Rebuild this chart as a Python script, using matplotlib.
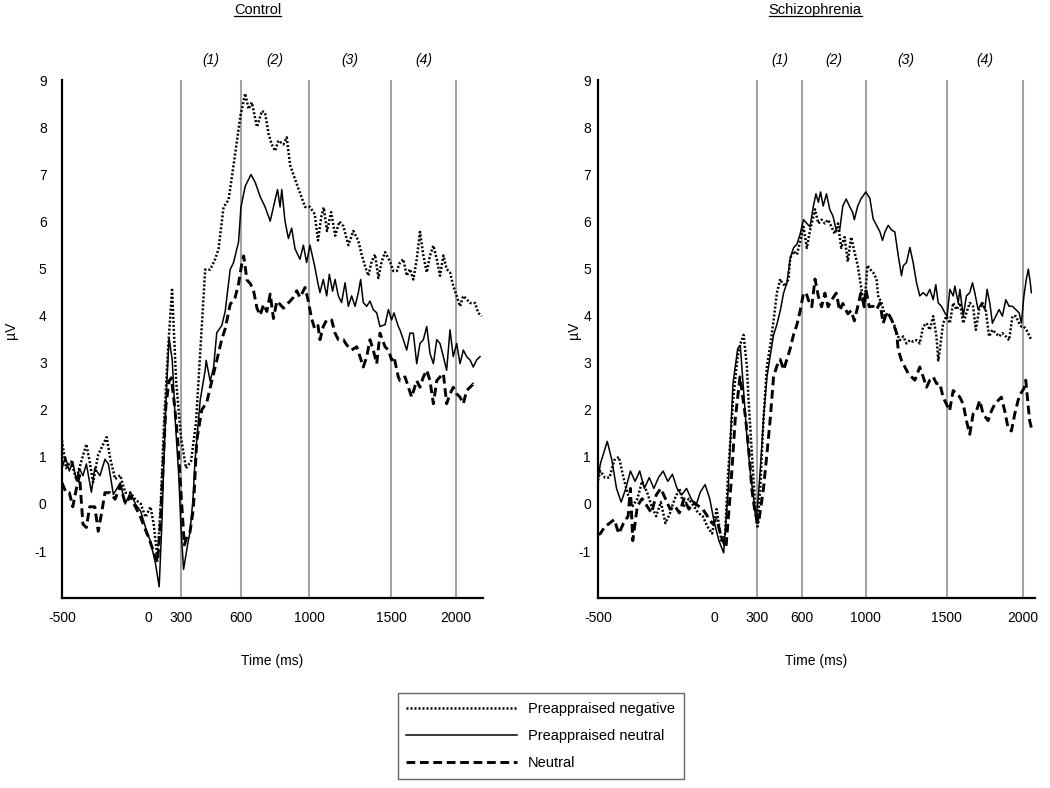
import numpy as np
import matplotlib
matplotlib.use('Agg')
import matplotlib.pyplot as plt
from matplotlib.lines import Line2D

plt.rcParams['font.family'] = ['Liberation Sans', 'DejaVu Sans']
plt.rcParams['axes.unicode_minus'] = False

# x ticks and the analysis window borders (ms)
tick_ms = [-500, 0, 300, 600, 1000, 1500, 2000]
window_ms = [300, 600, 1000, 1500, 2000]
window_names = ['(1)', '(2)', '(3)', '(4)']
legend_labels = ['Preappraised negative', 'Preappraised neutral', 'Neutral']

# Control group, preappraised negative (dotted)
ctrl_neg_t = [-500, -476, -447, -417, -388, -358, -339, -319, -289, -260, -240, -220, -191, -161, -132,
              -102, -73, -43, -14, 23, 52, 87, 116, 146, 184, 219, 256, 300, 325, 350, 375, 396, 421,
              446, 471, 488, 513, 538, 563, 597, 625, 645, 664, 694, 723, 742, 762, 781, 801, 820, 850,
              869, 889, 918, 947, 977, 1006, 1035, 1055, 1075, 1090, 1110, 1135, 1160, 1185, 1210, 1240,
              1270, 1300, 1321, 1342, 1362, 1382, 1403, 1423, 1443, 1464, 1494, 1518, 1544, 1569, 1595,
              1621, 1646, 1672, 1698, 1723, 1749, 1775, 1800, 1826, 1852, 1877, 1903, 1928, 1954, 1979,
              2005, 2030, 2054, 2079, 2104, 2141, 2165, 2190]
ctrl_neg_v = [1.35, 0.76, 0.9, 0.53, 0.9, 1.27, 0.9, 0.46, 1.05, 1.27, 1.42, 0.98, 0.53, 0.61, 0.24,
              0.24, 0.09, 0.01, -0.28, -0.06, -0.43, -1.17, 0.01, 1.72, 3.35, 4.55, 2.61, 1.42, 0.76, 0.9,
              1.72, 3.2, 4.98, 4.98, 5.2, 5.42, 6.31, 6.46, 7.2, 8.24, 8.72, 8.39, 8.53, 8.01, 8.35, 8.31,
              7.87, 7.64, 7.5, 7.72, 7.64, 7.79, 7.2, 6.9, 6.61, 6.31, 6.31, 6.16, 5.6, 6.1, 6.3, 5.8, 6.2,
              5.7, 6.0, 5.9, 5.5, 5.8, 5.6, 5.3, 5.05, 4.85, 5.15, 5.3, 4.8, 5.15, 5.35, 5.15, 4.95, 4.95,
              5.13, 5.2, 4.85, 4.99, 4.77, 5.2, 5.78, 5.28, 4.92, 5.28, 5.49, 5.2, 4.85, 5.28, 4.99, 4.92,
              4.63, 4.42, 4.2, 4.42, 4.35, 4.27, 4.27, 4.06, 3.99]

# Control group, preappraised neutral (solid)
ctrl_pne_t = [-500, -480, -457, -437, -417, -398, -378, -358, -329, -309, -279, -250, -230, -201, -161,
              -132, -102, -73, -43, -14, 23, 67, 102, 125, 146, 169, 192, 221, 250, 280, 300, 313, 333,
              345, 360, 370, 396, 421, 426, 446, 463, 479, 504, 521, 546, 563, 588, 600, 625, 659, 684,
              713, 742, 772, 791, 815, 830, 840, 859, 879, 898, 918, 947, 967, 986, 1006, 1035, 1055,
              1067, 1087, 1108, 1124, 1144, 1159, 1179, 1199, 1220, 1240, 1260, 1281, 1301, 1315, 1331,
              1352, 1372, 1392, 1413, 1433, 1464, 1484, 1505, 1523, 1556, 1569, 1595, 1621, 1646, 1672,
              1698, 1723, 1749, 1775, 1800, 1826, 1852, 1877, 1903, 1928, 1954, 1979, 2005, 2030, 2054,
              2079, 2104, 2128, 2153, 2178]
ctrl_pne_v = [0.75, 1.0, 0.7, 0.9, 0.5, 0.75, 0.6, 0.85, 0.25, 0.76, 0.6, 0.95, 0.85, 0.2, 0.45,
              0.0, 0.25, 0.0, -0.15, -0.5, -0.8, -1.25, -1.76, -0.5, 0.98, 2.46, 3.53, 3.05, 1.7, 0.6,
              -0.5, -1.39, -0.87, -0.6, 0.1, 0.9, 2.2, 2.84, 3.05, 2.61, 2.9, 3.64, 3.79, 4.09, 4.98,
              5.13, 5.57, 6.31, 6.75, 7.0, 6.83, 6.53, 6.31, 6.01, 6.31, 6.68, 6.31, 6.68, 6.01, 5.64,
              5.86, 5.42, 5.2, 5.5, 5.13, 5.5, 5.05, 4.68, 4.49, 4.77, 4.42, 4.88, 4.52, 4.77, 4.42, 4.28,
              4.7, 4.2, 4.42, 4.2, 4.49, 4.77, 4.28, 4.2, 4.31, 4.13, 4.06, 3.77, 3.81, 4.13, 3.91, 4.06,
              3.77, 3.7, 3.49, 3.27, 3.63, 3.63, 2.98, 3.41, 3.49, 3.77, 3.2, 2.98, 3.49, 3.41, 3.13,
              2.84, 3.7, 3.13, 3.41, 2.98, 3.27, 3.13, 3.06, 2.91, 3.06, 3.13]

# Control group, neutral (dashed)
ctrl_neu_t = [-500, -476, -457, -437, -417, -398, -378, -358, -339, -309, -289, -270, -250, -220, -191,
              -161, -132, -102, -73, -43, -20, 9, 52, 87, 111, 134, 163, 192, 213, 242, 271, 300, 317,
              333, 345, 362, 379, 404, 429, 454, 479, 504, 521, 546, 571, 588, 606, 616, 635, 655, 674,
              694, 713, 733, 752, 772, 791, 811, 830, 850, 869, 889, 908, 928, 947, 977, 996, 1016,
              1035, 1055, 1067, 1087, 1108, 1138, 1159, 1179, 1210, 1230, 1260, 1291, 1311, 1331, 1352,
              1372, 1392, 1413, 1433, 1464, 1484, 1505, 1523, 1556, 1569, 1608, 1634, 1659, 1698, 1723,
              1749, 1775, 1800, 1826, 1852, 1877, 1903, 1928, 1954, 1979, 2005, 2030, 2054, 2079, 2104,
              2128, 2153]
ctrl_neu_v = [0.45, 0.24, 0.24, -0.06, 0.31, 0.61, -0.43, -0.5, -0.06, -0.06, -0.58, -0.2, 0.24, 0.24,
              0.1, 0.39, 0.01, 0.16, -0.06, -0.28, -0.5, -0.73, -1.02, -1.24, -0.5, 0.61, 2.09, 2.61,
              2.68, 2.09, 1.35, 0.24, -0.87, -0.65, -0.6, -0.1, 1.35, 2.0, 2.16, 2.61, 3.05, 3.5, 3.72,
              4.24, 4.39, 4.68, 5.13, 5.27, 4.76, 4.68, 4.53, 4.16, 4.01, 4.24, 4.09, 4.46, 3.94, 4.31,
              4.24, 4.16, 4.24, 4.31, 4.39, 4.53, 4.39, 4.6, 4.31, 3.94, 3.72, 3.79, 3.49, 3.77, 3.91,
              3.91, 3.63, 3.49, 3.49, 3.38, 3.27, 3.34, 3.13, 2.91, 3.13, 3.49, 3.27, 2.98, 3.63, 3.34,
              3.27, 3.06, 3.13, 2.7, 2.62, 2.7, 2.48, 2.27, 2.62, 2.48, 2.7, 2.84, 2.62, 2.13, 2.62, 2.7,
              2.77, 2.13, 2.34, 2.48, 2.34, 2.27, 2.13, 2.41, 2.48, 2.55, 2.48]

# Schizophrenia group, preappraised negative (dotted)
scz_neg_t = [-500, -490, -470, -450, -430, -410, -390, -370, -350, -330, -310, -289, -269, -249, -229,
             -209, -189, -169, -149, -129, -108, -88, -68, -48, -28, -8, 19, 52, 78, 100, 133, 166, 184,
             207, 230, 242, 265, 288, 304, 322, 344, 367, 389, 411, 433, 456, 467, 489, 511, 522, 544,
             567, 589, 610, 631, 651, 672, 682, 703, 723, 744, 764, 785, 805, 826, 846, 867, 887, 908,
             928, 949, 969, 990, 1010, 1025, 1045, 1066, 1076, 1097, 1118, 1138, 1159, 1179, 1190, 1210,
             1231, 1251, 1272, 1292, 1313, 1333, 1354, 1375, 1395, 1416, 1436, 1447, 1457, 1477, 1498,
             1520, 1542, 1564, 1586, 1608, 1629, 1651, 1673, 1691, 1713, 1734, 1756, 1778, 1800, 1822,
             1844, 1866, 1888, 1910, 1932, 1954, 1976, 1991, 2007, 2024, 2046, 2057]
scz_neg_v = [0.5, 0.7, 0.56, 0.56, 0.93, 1.0, 0.56, 0.19, -0.04, 0.11, 0.48, 0.26, -0.04, -0.26, 0.04,
             -0.41, -0.19, 0.11, 0.33, -0.04, 0.11, -0.04, -0.19, -0.26, -0.48, -0.63, -0.11, -0.78,
             -0.63, 0.7, 2.19, 3.15, 3.4, 3.59, 2.93, 2.2, 1.07, -0.04, -0.48, 0.33, 1.81, 2.93, 3.37,
             3.89, 4.48, 4.78, 4.7, 4.63, 4.78, 5.22, 5.37, 5.3, 5.59, 5.89, 5.44, 5.81, 6.11, 6.26,
             5.96, 6.04, 5.96, 6.04, 5.89, 5.74, 5.96, 5.44, 5.67, 5.15, 5.67, 5.37, 5.07, 4.63, 4.19,
             5.07, 4.99, 4.92, 4.78, 4.42, 4.27, 3.99, 4.06, 3.91, 3.77, 3.63, 3.48, 3.56, 3.41, 3.48,
             3.45, 3.48, 3.41, 3.77, 3.84, 3.7, 3.99, 3.56, 3.05, 3.27, 3.84, 3.99, 3.84, 4.27, 4.13,
             4.27, 3.84, 4.06, 4.27, 4.2, 3.7, 4.13, 4.27, 4.13, 3.56, 3.7, 3.63, 3.56, 3.63, 3.56,
             3.48, 3.99, 3.99, 3.84, 3.77, 3.77, 3.7, 3.56, 3.48]

# Schizophrenia group, preappraised neutral (solid)
scz_pne_t = [-500, -490, -460, -440, -420, -400, -380, -360, -340, -320, -300, -279, -259, -239, -219,
             -199, -179, -159, -139, -118, -98, -78, -58, -38, -18, 3, 35, 68, 100, 133, 166, 184, 207,
             230, 253, 277, 295, 322, 344, 367, 389, 411, 433, 456, 478, 500, 522, 544, 567, 589, 610,
             631, 651, 672, 688, 703, 717, 733, 754, 774, 795, 815, 836, 856, 877, 897, 918, 928, 949,
             969, 1000, 1025, 1045, 1066, 1087, 1103, 1118, 1138, 1159, 1179, 1200, 1220, 1231, 1251,
             1272, 1292, 1313, 1333, 1354, 1375, 1395, 1416, 1432, 1447, 1467, 1488, 1502, 1520, 1542,
             1553, 1575, 1586, 1608, 1629, 1651, 1669, 1684, 1706, 1728, 1750, 1765, 1783, 1800, 1822,
             1844, 1866, 1888, 1910, 1932, 1954, 1976, 1991, 2007, 2024, 2037, 2050, 2057]
scz_pne_v = [0.5, 0.85, 1.33, 0.93, 0.33, 0.04, 0.33, 0.7, 0.48, 0.7, 0.33, 0.56, 0.33, 0.56, 0.7,
             0.48, 0.63, 0.33, 0.19, 0.33, 0.11, -0.04, 0.26, 0.41, 0.11, -0.4, -0.78, -1.04, 0.33,
             2.56, 3.3, 3.37, 2.41, 1.44, 0.7, 0.11, -0.4, 0.7, 1.81, 2.7, 3.15, 3.59, 3.81, 4.11, 4.48,
             4.7, 5.22, 5.44, 5.52, 5.74, 6.04, 5.96, 5.89, 6.33, 6.59, 6.41, 6.63, 6.33, 6.59, 6.26,
             6.11, 5.81, 5.81, 6.33, 6.48, 6.33, 6.19, 6.04, 6.33, 6.48, 6.63, 6.49, 6.06, 5.92, 5.78,
             5.6, 5.78, 5.92, 5.82, 5.78, 5.28, 4.85, 5.06, 5.13, 5.45, 5.13, 4.7, 4.42, 4.49, 4.42,
             4.56, 4.34, 4.66, 4.27, 4.2, 4.06, 3.99, 4.56, 4.42, 4.63, 4.27, 4.56, 3.99, 4.42, 4.49,
             4.7, 4.49, 4.13, 4.27, 4.13, 4.56, 4.27, 3.84, 3.99, 4.13, 3.99, 4.34, 4.2, 4.2, 4.13, 4.06,
             3.84, 4.41, 4.78, 4.99, 4.7, 4.49]

# Schizophrenia group, neutral (dashed)
scz_neu_t = [-500, -490, -470, -450, -430, -410, -390, -370, -360, -350, -330, -310, -289, -269, -249,
             -229, -209, -189, -169, -149, -129, -108, -88, -68, -48, -28, -8, 19, 52, 84, 117, 149, 182,
             195, 218, 242, 265, 288, 311, 344, 367, 389, 411, 433, 456, 478, 500, 522, 544, 567, 589,
             610, 627, 641, 662, 682, 703, 723, 744, 764, 785, 815, 836, 856, 887, 908, 928, 949, 969,
             990, 1000, 1021, 1045, 1066, 1087, 1107, 1128, 1148, 1169, 1190, 1200, 1220, 1241, 1262,
             1282, 1303, 1333, 1354, 1375, 1395, 1416, 1436, 1457, 1477, 1498, 1518, 1542, 1564, 1586,
             1608, 1629, 1651, 1673, 1695, 1717, 1739, 1772, 1794, 1816, 1838, 1859, 1881, 1903, 1925,
             1947, 1969, 1985, 2007, 2020, 2035, 2046, 2057]
scz_neu_v = [-0.65, -0.63, -0.48, -0.41, -0.33, -0.63, -0.41, -0.26, 0.33, -0.78, -0.04, 0.11, -0.04,
             -0.19, 0.19, 0.33, 0.11, -0.11, -0.04, -0.19, 0.11, -0.11, 0.04, -0.04, -0.11, -0.26, -0.41,
             -0.33, -0.7, -0.93, 0.33, 1.81, 2.7, 2.41, 1.9, 1.2, 0.3, -0.2, -0.41, 0.33, 1.07, 1.81,
             2.7, 2.93, 3.07, 2.85, 3.07, 3.3, 3.59, 3.81, 4.11, 4.48, 4.48, 4.33, 4.19, 4.78, 4.41,
             4.19, 4.48, 4.19, 4.33, 4.48, 4.11, 4.26, 4.04, 4.11, 3.89, 4.19, 4.48, 4.19, 4.56, 4.19,
             4.2, 4.13, 4.27, 3.84, 4.06, 3.99, 3.84, 3.63, 3.27, 3.05, 2.91, 2.77, 2.7, 2.63, 2.91, 2.7,
             2.48, 2.63, 2.7, 2.56, 2.56, 2.27, 2.12, 1.98, 2.41, 2.34, 2.27, 2.12, 1.77, 1.48, 1.91,
             1.98, 2.2, 1.91, 1.77, 1.98, 2.12, 2.2, 2.27, 1.98, 1.62, 1.55, 1.91, 2.2, 2.34, 2.45, 2.63,
             2.12, 1.77, 1.62]


# the time axis in the original is not evenly spaced, so warp it piecewise
def warp_scale(ms_pts, pos_pts):
    ms_pts = np.asarray(ms_pts, float)
    pos_pts = np.asarray(pos_pts, float)
    lo_slope = (pos_pts[1] - pos_pts[0]) / (ms_pts[1] - ms_pts[0])
    hi_slope = (pos_pts[-1] - pos_pts[-2]) / (ms_pts[-1] - ms_pts[-2])

    def fwd(x):
        x = np.asarray(x, float)
        y = np.interp(x, ms_pts, pos_pts)
        y = np.where(x < ms_pts[0], pos_pts[0] + (x - ms_pts[0]) * lo_slope, y)
        y = np.where(x > ms_pts[-1], pos_pts[-1] + (x - ms_pts[-1]) * hi_slope, y)
        return y

    def inv(y):
        y = np.asarray(y, float)
        x = np.interp(y, pos_pts, ms_pts)
        x = np.where(y < pos_pts[0], ms_pts[0] + (y - pos_pts[0]) / lo_slope, x)
        x = np.where(y > pos_pts[-1], ms_pts[-1] + (y - pos_pts[-1]) / hi_slope, x)
        return x
    return fwd, inv


fig = plt.figure(figsize=(10.5, 7.88), dpi=100)
ax1 = fig.add_axes([0.059, 0.241, 0.401, 0.657])
ax2 = fig.add_axes([0.5695, 0.241, 0.416, 0.657])

panels = [
    (ax1, 'Control', (ctrl_neg_t, ctrl_neg_v), (ctrl_pne_t, ctrl_pne_v), (ctrl_neu_t, ctrl_neu_v),
     [-500, 0, 300, 600, 1000, 1500, 2000, 2200], [62, 148, 181, 241, 309, 391, 456, 483], 2200, 11, -0.105, 0.465),
    (ax2, 'Schizophrenia', (scz_neg_t, scz_neg_v), (scz_pne_t, scz_pne_v), (scz_neu_t, scz_neu_v),
     [-500, 0, 300, 600, 1000, 1500, 2000, 2080], [598, 714, 757, 802, 866, 947, 1023, 1035], 2080, 5, -0.038, 0.497),
]

titles = []
for ax, title, neg, pne, neu, anc_ms, anc_pos, xmax, ypad, ylab_x, title_x in panels:
    fwd, inv = warp_scale(anc_ms, anc_pos)
    ax.set_xscale('function', functions=(fwd, inv))
    for x in window_ms:
        ax.axvline(x, color='#a3a3a3', lw=1.5, zorder=0)
    h1, = ax.plot(neg[0], neg[1], color='black', lw=1.8, linestyle=(0, (0.8, 0.8)))
    h2, = ax.plot(pne[0], pne[1], color='black', lw=1.1)
    h3, = ax.plot(neu[0], neu[1], color='black', lw=2.1, linestyle=(0, (3.0, 1.6)))
    ax.set_xlim(-500, xmax)
    ax.set_ylim(-2, 9)
    ax.set_xticks(tick_ms)
    ax.set_xticklabels([str(t) for t in tick_ms])
    ax.set_yticks(range(-1, 10))
    ax.xaxis.set_minor_locator(matplotlib.ticker.NullLocator())
    ax.tick_params(axis='x', length=0, pad=9, labelsize=10)
    ax.tick_params(axis='y', length=0, pad=ypad, labelsize=10)
    for s in ['top', 'right']:
        ax.spines[s].set_visible(False)
    for s in ['left', 'bottom']:
        ax.spines[s].set_linewidth(1.6)
        ax.spines[s].set_color('black')
    ax.set_ylabel('µV', fontsize=10)
    ax.yaxis.set_label_coords(ylab_x, 0.517)
    ax.set_xlabel('Time (ms)', fontsize=10)
    ax.xaxis.set_label_coords(0.5, -0.108)
    # period labels centred between window borders
    pos = fwd(np.array(window_ms))
    mids = inv((pos[:-1] + pos[1:]) / 2)
    for m, name in zip(mids, window_names):
        ax.text(m, 1.039, name, transform=ax.get_xaxis_transform(), ha='center', va='center',
                fontsize=10, style='italic')
    titles.append(ax.text(title_x, 1.135, title, transform=ax.transAxes,
                          ha='center', va='center', fontsize=10.5))

fig.legend([h1, h2, h3], legend_labels, loc='center', bbox_to_anchor=(0.515, 0.066),
           frameon=True, fancybox=False, edgecolor='#404040', handlelength=7.6, handletextpad=0.75,
           fontsize=10.5, labelspacing=0.9, borderpad=0.6)

# underline the group titles
fig.canvas.draw()
r = fig.canvas.get_renderer()
for t in titles:
    bb = t.get_window_extent(r)
    (x0, y0), (x1, _) = fig.transFigure.inverted().transform([(bb.x0, bb.y0 + 1), (bb.x1, bb.y0 + 1)])
    fig.add_artist(Line2D([x0, x1], [y0, y0], transform=fig.transFigure, color='black', lw=0.9))

fig.savefig('out.png', dpi=100)
